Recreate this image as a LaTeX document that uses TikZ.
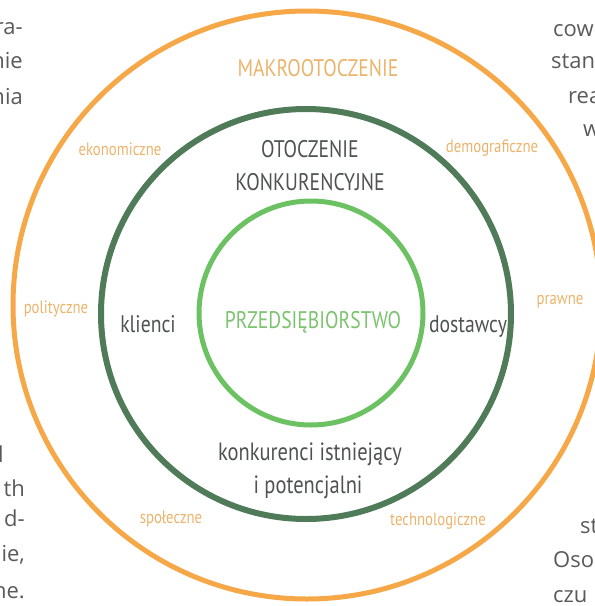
\documentclass[tikz,border=0pt]{standalone}
\usepackage{fontspec}
\setmainfont{Open Sans}
\newfontfamily\cond[FakeStretch=0.82]{PT Sans}
\definecolor{makroring}{HTML}{F6A849}
\definecolor{makrotext}{HTML}{EBB46C}
\definecolor{konkring}{HTML}{4F7B58}
\definecolor{firmring}{HTML}{6CC163}
\definecolor{firmtext}{HTML}{7CC36F}
\definecolor{darktext}{HTML}{4E5350}
\definecolor{bodytext}{HTML}{5A5A5A}
\begin{document}
\begin{tikzpicture}[
		x=1pt, y=-1pt,
		ring/.style={circle, line width=5pt, inner sep=0pt},
		title/.style={font=\cond\fontsize{24}{26}\selectfont, anchor=base, inner sep=0pt},
		factor/.style={font=\cond\fontsize{18}{20}\selectfont, text=makrotext, anchor=base, inner sep=0pt},
		body/.style={font=\fontsize{22}{24}\selectfont, text=bodytext, inner sep=0pt},
		]
		\useasboundingbox (0,0) rectangle (595,606);
		% rings
		\node[ring, draw=makroring, minimum size=588pt] (makro) at (307,305) {};
		\node[ring, draw=konkring, line width=6pt, minimum size=410pt] (konk) at (306,314) {};
		\node[ring, draw=firmring, minimum size=224pt] (firm) at (311,313) {};
		% labels
		\node[title, text=makrotext] (makrolab) at (318,76) {MAKROOTOCZENIE};
		\node[title, text=darktext] (otoczenie) at (310,157) {OTOCZENIE};
		\node[title, text=darktext] (konkurencyjne) at (310,190) {KONKURENCYJNE};
		\node[title, text=firmtext] (firmlab) at (313,328) {PRZEDSIĘBIORSTWO};
		\node[title, text=darktext] (klienci) at (148,332) {klienci};
		\node[title, text=darktext] (dostawcy) at (468,332) {dostawcy};
		\node[title, text=darktext, font=\cond\fontsize{25}{27}\selectfont] (konkurenci) at (310,460) {konkurenci istniejący};
		\node[title, text=darktext, font=\cond\fontsize{25}{27}\selectfont] (potencjalni) at (308,493) {i potencjalni};
		\node[factor] (ekonomiczne) at (120,155) {ekonomiczne};
		\node[factor] (demograficzne) at (492,152) {demograficzne};
		\node[factor] (polityczne) at (56,313) {polityczne};
		\node[factor] (prawne) at (560,304) {prawne};
		\node[factor] (spoleczne) at (171,523) {społeczne};
		\node[factor] (technologiczne) at (438,525) {technologiczne};
		% page text cut at the edges
		\node[body, anchor=base east] (l1) at (23,34) {ra-};
		\node[body, anchor=base east] (l2) at (23,68) {nie};
		\node[body, anchor=base east] (l3) at (23,104) {nia};
		\node[body, anchor=base east] (l4) at (4,462) {l};
		\node[body, anchor=base east] (l5) at (25,496) {th};
		\node[body, anchor=base east] (l6) at (25,526) {d-};
		\node[body, anchor=base east] (l7) at (25,561) {ie,};
		\node[body, anchor=base east] (l8) at (25,598) {ne.};
		\node[body, anchor=base west] (r1) at (553,36) {cow};
		\node[body, anchor=base west] (r2) at (551,68) {stan};
		\node[body, anchor=base west] (r3) at (568,103) {rea};
		\node[body, anchor=base west] (r4) at (583,136) {w};
		\node[body, anchor=base west] (r5) at (580,533) {st};
		\node[body, anchor=base west] (r6) at (553,567) {Oso};
		\node[body, anchor=base west] (r7) at (553,602) {czu};
	\end{tikzpicture}
\end{document}
